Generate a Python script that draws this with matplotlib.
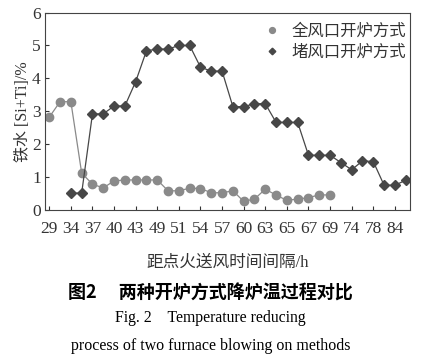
import numpy as np
import matplotlib.pyplot as plt

plt.rcParams['font.family'] = ['Liberation Serif', 'Noto Sans CJK SC']

# category labels (shown on every other category)
tick_labels = [29, 34, 37, 40, 43, 49, 51, 54, 57, 60, 63, 65, 67, 69, 74, 78, 84]
n_cat = 34

# 全风口开炉方式 (starts at category 0)
full_vals = [2.82, 3.29, 3.29, 1.12, 0.78, 0.67, 0.88, 0.91, 0.91, 0.91,
             0.91, 0.58, 0.58, 0.66, 0.65, 0.52, 0.52, 0.58, 0.26, 0.33,
             0.63, 0.45, 0.29, 0.33, 0.37, 0.46, 0.45]

# 堵风口开炉方式 (starts at category 2)
block_vals = [0.51, 0.51, 2.92, 2.92, 3.16, 3.16, 3.90, 4.84, 4.89, 4.89,
              5.00, 5.00, 4.34, 4.22, 4.22, 3.14, 3.14, 3.23, 3.23, 2.66,
              2.66, 2.66, 1.66, 1.66, 1.66, 1.44, 1.22, 1.49, 1.47, 0.75,
              0.75, 0.90]

x_full = np.arange(len(full_vals))
x_block = np.arange(2, 2 + len(block_vals))

fig = plt.figure(figsize=(4.24, 3.6), dpi=100)
ax = fig.add_axes([0.106, 0.417, 0.861, 0.548])

ax.plot(x_full, full_vals, color='#8a8a8a', lw=0.9, marker='o', ms=6,
        mec='#8a8a8a', mfc='#8a8a8a', label='全风口开炉方式')
ax.plot(x_block, block_vals, color='#474747', lw=0.9, marker='D', ms=4.8,
        mec='#474747', mfc='#474747', label='堵风口开炉方式')

ax.set_xlim(-0.4, 33.4)
ax.set_ylim(0, 6)
ax.set_xticks(np.arange(0, n_cat, 2))
ax.set_xticklabels([str(t) for t in tick_labels])
ax.set_yticks(range(7))
ax.tick_params(axis='both', direction='in', length=3, width=0.8,
               labelsize=12.5, colors='#333333')
ax.tick_params(axis='x', pad=8)
ax.tick_params(axis='y', pad=3)
for s in ax.spines.values():
    s.set_color('#444444')
    s.set_linewidth(0.8)

ax.set_xlabel('距点火送风时间间隔/h', fontsize=12, color='#333333', labelpad=13)
ax.set_ylabel('铁水 [Si+Ti]/%', fontsize=11.5, color='#333333', labelpad=1)

leg = ax.legend(loc='upper right', bbox_to_anchor=(1.02, 1.0), frameon=False,
                fontsize=11.8, markerscale=0.7, handlelength=1.0,
                handletextpad=0.7, borderaxespad=0.3, labelspacing=0.3)
for h in leg.legend_handles:
    h.set_linestyle('')
for t in leg.get_texts():
    t.set_color('#333333')

fig.text(0.496, 0.186, '图2　 两种开炉方式降炉温过程对比', ha='center', va='center',
         fontsize=13, fontweight='bold', family=['Noto Sans CJK SC'])
fig.text(0.496, 0.117, 'Fig. 2    Temperature reducing', ha='center', va='center',
         fontsize=11.3)
fig.text(0.496, 0.039, 'process of two furnace blowing on methods', ha='center',
         va='center', fontsize=11.5)

fig.savefig('out.png', dpi=100)
